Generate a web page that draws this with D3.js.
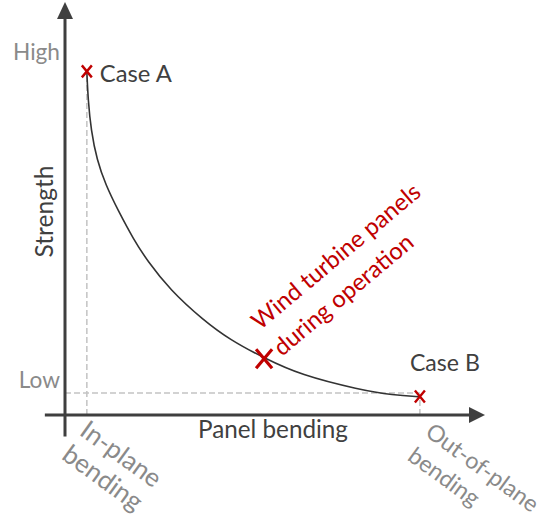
<!DOCTYPE html>
<html><head><meta charset="utf-8">
<script src="https://cdn.jsdelivr.net/npm/d3@7"></script>
<style>
html,body{margin:0;padding:0;background:#fff;}
svg{display:block;}
</style></head><body>
<svg id="chart" width="546" height="519"></svg>
<script>
// ---------- data ----------
const curveX = [0.52,0.55,0.62,0.76,0.97,1.26,1.64,1.95,2.50,3.29,3.93,4.74,5.60,7.02,7.81,8.45];
const curveY = [8.31,7.63,6.90,6.17,5.57,4.96,4.24,3.75,3.03,2.30,1.82,1.38,0.97,0.61,0.48,0.44];
const markerNames = ["Case A", "Wind turbine panels during operation", "Case B"];
const markerX = [0.52, 4.74, 8.45];
const markerY = [8.32, 1.36, 0.45];
const yTickValues = [8.79, 0.85];
const yTickLabels = ["High", "Low"];
const xCategoryLabels = [["In-plane", "bending"], ["Out-of-plane", "bending"]];
const xCategoryValues = [0.52, 8.45];
const lowLevel = 0.53;
const axisTitles = {x: "Panel bending", y: "Strength"};
const noteLines = ["Wind turbine panels", "during operation"];

// ---------- setup ----------
const FONT = "Lato, 'Open Sans', sans-serif";
const C_AXIS = "#3f3f3f", C_TEXT = "#404040", C_GRAY = "#8a8a8a", C_RED = "#c00000", C_DASH = "#c3c3c3";
const svg = d3.select("#chart");
const x = d3.scaleLinear().domain([0, 10]).range([65, 485]);
const y = d3.scaleLinear().domain([0, 10]).range([415, 2]);

function fitGroup(texts, targetWidth) {
  const base = 22;
  texts.forEach(t => t.attr("font-size", base));
  const maxLen = d3.max(texts, t => t.node().getComputedTextLength());
  texts.forEach(t => t.attr("font-size", base * targetWidth / maxLen));
}

// ---------- dashed reference lines ----------
const dash = svg.append("g").attr("stroke", C_DASH).attr("stroke-width", 1.5)
  .attr("stroke-dasharray", "6,3").attr("fill", "none");
dash.append("line").attr("x1", x(xCategoryValues[0])).attr("x2", x(xCategoryValues[0]))
  .attr("y1", y(0)).attr("y2", y(markerY[0]));
dash.append("line").attr("x1", x(0)).attr("x2", x(markerX[2]))
  .attr("y1", y(lowLevel)).attr("y2", y(lowLevel));
dash.append("line").attr("x1", x(xCategoryValues[1])).attr("x2", x(xCategoryValues[1]))
  .attr("y1", y(0)).attr("y2", y(markerY[2]));

// ---------- axes ----------
const ax = svg.append("g");
const yAxisG = ax.append("g").attr("transform", `translate(${x(0)},0)`)
  .call(d3.axisLeft(y).tickValues(yTickValues).tickFormat((d, i) => yTickLabels[i]).tickSize(0).tickPadding(5));
yAxisG.select(".domain").remove();
yAxisG.attr("font-family", FONT);
const tickTexts = [];
yAxisG.selectAll(".tick text").attr("fill", C_GRAY).each(function () { tickTexts.push(d3.select(this)); });
fitGroup([tickTexts[0]], 47);
tickTexts[1].attr("font-size", tickTexts[0].attr("font-size"));

ax.append("line").attr("x1", x(0)).attr("x2", x(0)).attr("y1", y(-0.52)).attr("y2", y(10) + 14)
  .attr("stroke", C_AXIS).attr("stroke-width", 3);
ax.append("line").attr("x1", x(-0.48)).attr("x2", x(10) - 14).attr("y1", y(0)).attr("y2", y(0))
  .attr("stroke", C_AXIS).attr("stroke-width", 3);
ax.append("path").attr("fill", C_AXIS)
  .attr("d", `M${x(0)},${y(10)} L${x(0) - 8},${y(10) + 17} L${x(0) + 8},${y(10) + 17} Z`);
ax.append("path").attr("fill", C_AXIS)
  .attr("d", `M${x(10)},${y(0)} L${x(10) - 16},${y(0) - 8} L${x(10) - 16},${y(0) + 8} Z`);

const yTitle = svg.append("text").attr("font-family", FONT).attr("fill", C_TEXT)
  .attr("text-anchor", "middle")
  .attr("transform", `translate(${x(0) - 12},${y(5) + 3}) rotate(-90)`).text(axisTitles.y);
fitGroup([yTitle], 92);
const xTitle = svg.append("text").attr("font-family", FONT).attr("fill", C_TEXT)
  .attr("text-anchor", "middle").attr("x", x(5) - 2).attr("y", y(0) + 23).text(axisTitles.x);
fitGroup([xTitle], 150);

// rotated category labels under the x axis
const catOffsets = [[-8.6, 19], [4, 20]];
const catWidths = [93, 133];
xCategoryLabels.forEach((lines, i) => {
  const g = svg.append("g")
    .attr("transform", `translate(${x(xCategoryValues[i]) + catOffsets[i][0]},${y(0) + catOffsets[i][1]}) rotate(36)`);
  const ts = lines.map((l, j) => g.append("text").attr("font-family", FONT).attr("fill", C_GRAY)
    .attr("x", 0).attr("y", j * 30).text(l));
  fitGroup([ts[0]], catWidths[i]);
  ts.forEach(t => t.attr("font-size", ts[0].attr("font-size")));
});

// ---------- curve ----------
const pts = curveX.map((v, i) => [v, curveY[i]]);
svg.append("path").datum(pts)
  .attr("fill", "none").attr("stroke", "#333").attr("stroke-width", 1.6)
  .attr("d", d3.line().x(d => x(d[0])).y(d => y(d[1])).curve(d3.curveBasis));

// ---------- markers ----------
const mSize = [[10, 12, 2.4], [16, 19, 3.2], [10, 12, 2.4]];
markerX.forEach((mx, i) => {
  const cx = x(mx), cy = y(markerY[i]);
  const w = mSize[i][0] / 2, h = mSize[i][1] / 2;
  svg.append("path").attr("fill", "none").attr("stroke", C_RED).attr("stroke-width", mSize[i][2])
    .attr("d", `M${cx - w},${cy - h} L${cx + w},${cy + h} M${cx + w},${cy - h} L${cx - w},${cy + h}`);
});

const caseA = svg.append("text").attr("font-family", FONT).attr("fill", C_TEXT)
  .attr("x", x(markerX[0]) + 13).attr("y", y(markerY[0]) + 11).text(markerNames[0]);
fitGroup([caseA], 72);
const caseB = svg.append("text").attr("font-family", FONT).attr("fill", C_TEXT)
  .attr("x", x(markerX[2]) - 10).attr("y", y(markerY[2]) - 25).text(markerNames[2]);
fitGroup([caseB], 70);

const noteG = svg.append("g")
  .attr("transform", `translate(${x(markerX[1]) - 4},${y(markerY[1]) - 28}) rotate(-40)`);
const noteTexts = noteLines.map((l, j) => noteG.append("text").attr("font-family", FONT)
  .attr("fill", C_RED).attr("x", 0).attr("y", j * 34).text(l));
fitGroup([noteTexts[0]], 212);
noteTexts[1].attr("font-size", noteTexts[0].attr("font-size"));
</script>
</body></html>
